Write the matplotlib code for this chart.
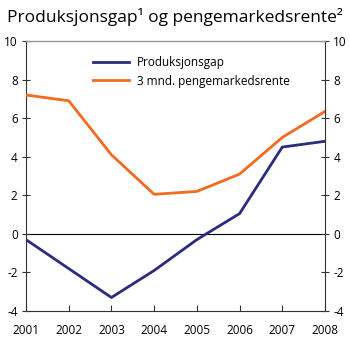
import matplotlib
matplotlib.use('Agg')
import matplotlib.pyplot as plt

years = [2001, 2002, 2003, 2004, 2005, 2006, 2007, 2008]
produksjonsgap = [-0.3, -1.8, -3.3, -1.9, -0.3, 1.05, 4.5, 4.8]
pengemarkedsrente = [7.2, 6.9, 4.1, 2.05, 2.2, 3.1, 5.0, 6.35]
yticks = [-4, -2, 0, 2, 4, 6, 8, 10]

blue = '#2b2c7c'
orange = '#f36b21'
plt.rcParams['font.family'] = ['Open Sans', 'DejaVu Sans']
plt.rcParams['axes.unicode_minus'] = False

fig = plt.figure(figsize=(3.5, 3.39), dpi=100)
ax = fig.add_axes([26/350, 1-311/339, 299/350, 270/339])

ax.axhline(0, color='black', lw=0.8, zorder=1)
ax.plot(years, produksjonsgap, color=blue, lw=2, label='Produksjonsgap', zorder=3)
ax.plot(years, pengemarkedsrente, color=orange, lw=2, label='3 mnd. pengemarkedsrente', zorder=3)

ax.set_xlim(2001, 2008)
ax.set_ylim(-4, 10)
ax.set_xticks(years)
ax.set_yticks(yticks)

for s in ['left', 'right', 'bottom']:
    ax.spines[s].set_color('#333333')
    ax.spines[s].set_linewidth(0.8)
ax.spines['top'].set_color('#999999')
ax.spines['top'].set_linewidth(1.0)

ax.tick_params(axis='x', direction='in', length=4, width=0.8, color='#333333',
               labelsize=8.5, pad=9, top=False)
ax.tick_params(axis='y', direction='inout', length=6, width=0.8, color='#333333',
               labelsize=8.5, pad=3, left=True, right=True, labelleft=True, labelright=True)

ax.legend(loc='upper left', bbox_to_anchor=(0.19, 0.985), frameon=False, fontsize=8.5,
          handlelength=3.0, handletextpad=0.7, labelspacing=0.5)

fig.text(0.5, 1-17/339, 'Produksjonsgap¹ og pengemarkedsrente²', ha='center', va='center',
         fontsize=12.5)

fig.savefig('out.png', dpi=100)
